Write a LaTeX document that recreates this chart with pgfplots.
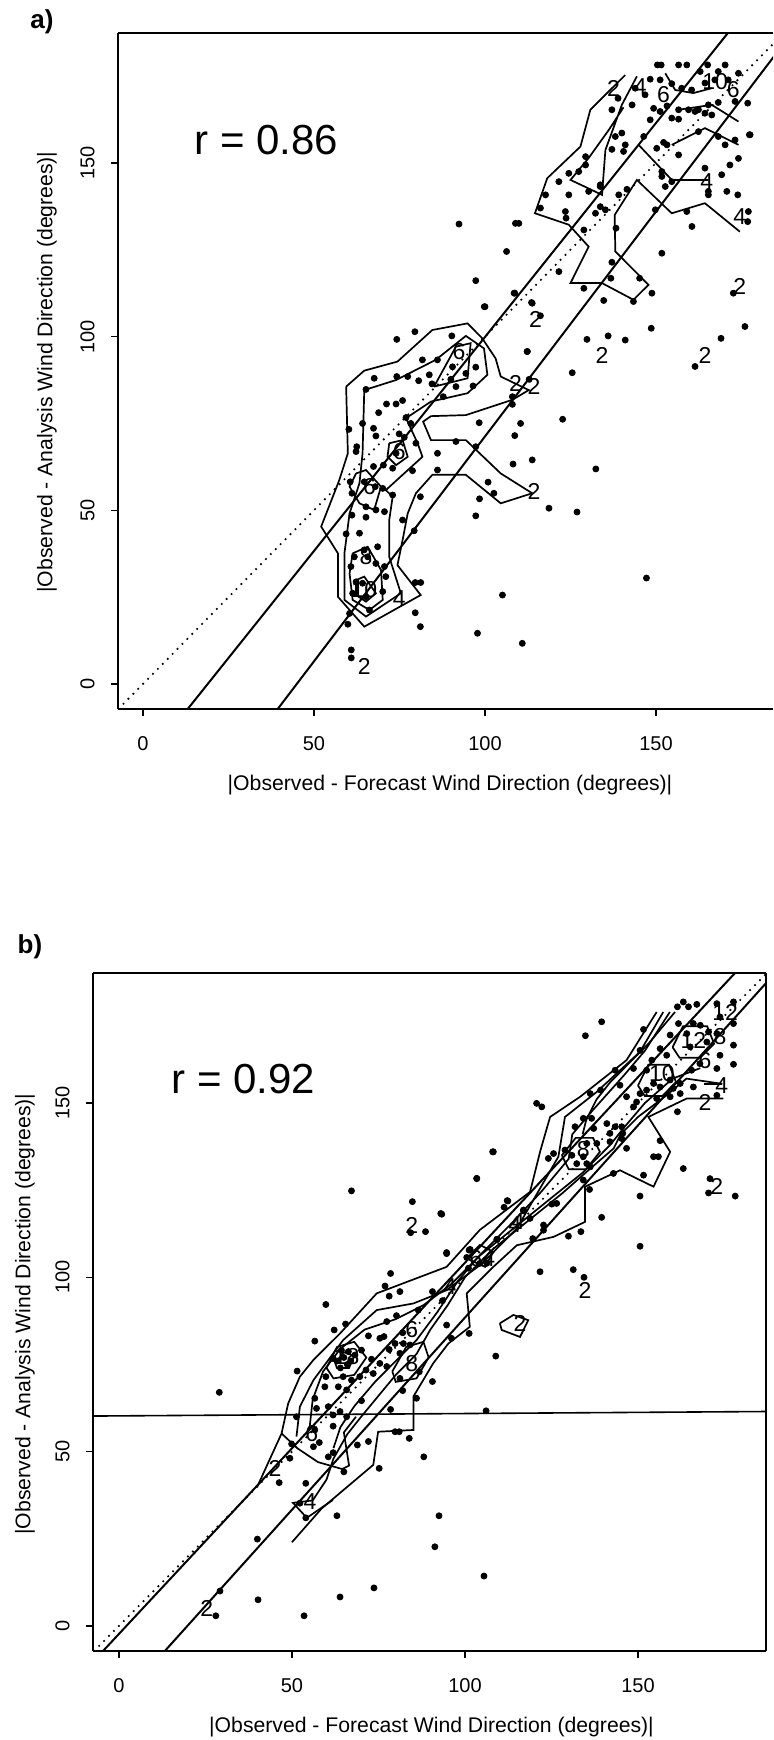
\documentclass[border=0pt]{standalone}
\usepackage{pgfplots}
\pgfplotsset{compat=1.18}
\usepackage{fontspec}
\setmainfont{Liberation Sans}
\pgfplotsset{
  base/.style={
    scale only axis, clip=true,
    axis x line*=box, axis y line*=left,
    tick align=outside, major tick length=3.5pt,
    xtick={0,50,100,150}, ytick={0,50,100,150},
    xtick pos=left, ytick pos=left,
    minor tick num=0,
    xticklabels={}, yticklabels={},
    axis line style={line width=0.8pt},
    every tick/.style={black, line width=0.7pt},
  },
  tl/.style 2 args={after end axis/.append code={
    \foreach \v in {0,50,100,150}{
      \node[font=\fontsize{10}{12}\selectfont, inner sep=0pt] at ([yshift=-17.2pt]axis cs:\v,#1) {\v};
      \node[font=\fontsize{10}{12}\selectfont, inner sep=0pt, rotate=90] at ([xshift=-15.25pt]axis cs:#2,\v) {\v};
    }}},
  pts/.style={only marks, mark=*, mark size=1.5pt, black},
  reg/.style={black, line width=1pt, no marks},
  one/.style={black, line width=1.2pt, dash pattern=on 0pt off 3.5pt, line cap=round, no marks},
  cnt/.style={black, line width=0.85pt, no marks},
}
\tikzset{lab/.style={font=\fontsize{11.5}{12}\selectfont, inner sep=0pt}}
\begin{document}
\begin{tikzpicture}
% ---------------- panel a ----------------
\begin{axis}[base, at={(59pt,515.5pt)}, anchor=south west,
  width=327.5pt, height=338pt,
  xmin=-7.3, xmax=184.2, ymin=-7.2, ymax=187.4, tl={-7.2}{-7.3}]
\addplot[one] coordinates {(-10,-10) (190,190)};
\addplot[reg] coordinates {(10,-11) (175,192.3)};
\addplot[reg] coordinates {(35,-12.9) (190,187.8)};
% contours lower cluster
\addplot[cnt] coordinates {(59.4,85.6) (64.7,90.2) (74.4,92.8) (84.6,101.9) (94.9,103.8) (99.2,99.5) (103.1,93.7) (104.6,88.5) (112.8,84.6) (108.0,81.8) (94.4,77.4) (84.2,77.1) (81.9,75.5) (84.2,70.2) (94.4,70.2) (104.6,60.6) (113.8,54.9) (104.6,52.0) (94.4,60.2) (84.6,60.2) (79.8,54.9) (77.4,49.1) (75.9,41.4) (74.4,34.2) (81.2,25.6) (64.7,16.5) (57.0,25.1) (57.0,37.6) (52.1,45.3) (57.4,58.7) (59.9,66.4) (59.4,85.6)};
\addplot[cnt] coordinates {(64.7,84.6) (74.0,87.5) (85.6,93.3) (94.4,100.2) (99.7,96.6) (100.7,89.0) (94.9,83.7) (84.2,81.3) (76.9,76.5) (80.3,69.3) (81.7,65.4) (71.0,55.8) (73.0,53.9) (72.0,47.2) (72.0,36.6) (75.4,26.1) (65.2,19.4) (58.9,24.2) (58.9,37.6) (60.4,49.1) (63.3,57.8) (64.2,66.4) (64.7,84.6)};
\addplot[cnt] coordinates {(72.0,69.3) (75.9,70.2) (77.4,65.4) (74.0,63.0) (71.5,65.4) (72.0,69.3)};
\addplot[cnt] coordinates {(62.3,60.6) (65.2,61.6) (69.6,56.8) (67.6,50.1) (63.3,52.0) (60.4,56.8) (62.3,60.6)};
\addplot[cnt] coordinates {(61.3,37.6) (65.7,39.5) (69.6,32.8) (70.1,24.2) (66.2,21.3) (61.3,24.2) (60.4,31.8) (61.3,37.6)};
\addplot[cnt] coordinates {(62.3,29.9) (64.7,30.9) (68.1,26.1) (65.2,23.7) (62.3,25.6) (62.3,29.9)};
\addplot[cnt] coordinates {(85.1,85.6) (91.5,97.1) (95.8,98.1) (94.9,88.0) (85.1,85.6)};
% contours upper cluster
\addplot[cnt] coordinates {(141.0,175.3) (130.8,165.3) (127.9,154.7) (118.2,145.6) (114.6,135.5) (124.5,132.2) (130.3,125.9) (125.0,115.4) (134.2,115.4) (143.4,110.6) (147.8,114.9) (138.1,124.5) (137.9,135.0) (144.4,145.1) (154.6,135.5) (164.3,138.4) (174.5,130.2)};
\addplot[cnt] coordinates {(144.4,174.9) (140.0,166.7) (135.2,153.7) (134.2,140.8) (125.0,145.1) (130.3,151.4) (136.2,159.5) (140.5,166.0)};
\addplot[cnt] coordinates {(144.9,155.2) (154.6,145.1) (165.3,145.1)};
\addplot[cnt] coordinates {(154.6,155.2) (164.3,160.0) (174.1,155.2)};
\addplot[cnt] coordinates {(152.7,175.8) (155.6,171.0) (160.9,170.1) (166.3,171.5)};
\addplot[cnt] coordinates {(156.6,165.3) (166.3,166.7) (174.1,161.9)};
% points
\addplot[pts] coordinates {
(97.3,116.1) (108.7,112.5) (113.6,109.8) (99.8,108.6) (79.5,101.4) (74.2,99.2) (90.3,100.2) (112.4,95.7) (81.7,93.3) (86.1,93.3)
(67.6,88.0) (74.2,88.5) (77.4,88.5) (80.6,87.3) (83.7,89.0) (90.5,91.3) (94.4,89.4) (97.3,91.2) (90.0,87.7) (91.5,85.6)
(65.2,84.8) (84.5,86.4) (87.8,82.7) (96.5,85.8) (108.0,82.7) (108.0,80.5) (71.2,80.6) (74.0,80.6) (75.9,81.6) (68.9,78.1)
(76.9,76.7) (78.3,75.0) (98.3,75.2) (110.4,75.0) (108.7,71.5) (64.2,75.0) (67.4,73.6) (68.1,71.4) (60.2,73.3) (74.9,72.0)
(76.4,71.0) (79.8,69.3) (62.5,68.3) (62.3,66.9) (74.0,66.4) (86.1,66.4) (91.5,69.8) (97.3,68.3) (108.2,63.3) (113.8,64.5)
(67.4,62.6) (70.3,63.0) (73.0,62.1) (78.8,61.4) (86.1,61.6) (100.9,58.1) (102.6,54.9) (98.4,53.3) (81.1,53.9) (60.6,58.2)
(61.1,54.9) (64.7,58.2) (67.9,56.8) (70.1,56.3) (73.0,54.4) (65.2,51.0) (68.1,50.1) (70.6,49.6) (61.1,48.6) (65.2,48.0)
(75.9,47.2) (97.3,48.4) (59.4,43.2) (63.3,43.4) (79.3,44.1) (68.6,39.5) (64.7,38.6) (61.8,36.6) (65.7,36.6) (68.1,34.7)
(70.6,33.8) (71.0,30.9) (60.8,33.8) (62.3,29.4) (64.2,29.0) (79.6,29.2) (81.2,29.2) (70.1,26.6) (105.1,25.6) (60.4,20.3)
(66.2,21.3) (79.6,20.5) (59.9,17.2) (81.1,16.5) (97.8,14.6) (110.9,11.7) (65.2,25.1) (61.3,26.1) (118.7,50.6) (60.9,9.8)
(60.9,7.5) (147.2,30.5) (92.4,132.4) (132.4,61.9) (126.9,49.5) (125.5,89.6) (112.9,87.7) (122.7,76.2)
(150.4,178.2) (151.5,178.2) (156.6,178.2) (159.0,178.2) (165.1,178.2) (170.2,178.2) (162.9,176.3) (168.2,176.3) (148.3,174.1) (151.2,173.9)
(154.6,172.8) (157.5,171.5) (160.4,171.0) (164.3,173.0) (167.2,173.9) (171.1,173.9) (174.1,175.8) (143.9,171.5) (146.8,169.6) (138.9,168.6)
(143.0,166.7) (149.3,165.7) (151.2,164.8) (153.2,166.4) (156.6,165.3) (159.5,165.3) (162.4,165.3) (165.3,166.7) (168.2,167.4) (173.1,167.7)
(176.8,167.2) (137.1,165.3) (148.3,162.4) (154.6,162.9) (156.6,162.6) (161.4,164.8) (164.3,164.3) (166.3,163.8) (162.4,159.0) (168.2,157.6)
(170.2,155.2) (173.1,156.6) (177.5,158.1) (138.1,157.6) (140.0,158.6) (146.4,157.6) (152.2,155.9) (141.0,155.2) (137.1,153.9) (140.5,153.3)
(150.2,154.2) (153.2,155.2) (156.6,152.3) (174.1,151.3) (171.6,149.4) (169.2,146.6) (164.3,148.5) (151.7,147.5) (151.7,146.1) (154.6,144.6)
(165.3,141.8) (170.7,141.8) (173.9,140.8) (177.0,136.0) (176.8,133.1) (165.3,140.8) (152.7,143.2) (129.4,151.8) (129.4,149.4) (124.5,147.0)
(127.4,147.5) (121.6,144.6) (133.7,143.7) (133.7,143.2) (130.3,141.8) (124.5,140.8) (117.7,140.8) (133.7,137.4) (116.2,137.0) (123.5,136.0)
(123.7,134.1) (132.3,135.5) (135.2,136.5) (139.1,140.8) (141.5,142.4) (149.8,136.5) (159.0,136.0) (160.5,131.7) (151.7,124.0) (128.9,130.7)
(109.9,132.6) (108.9,132.6) (106.3,124.5) (138.3,131.2) (137.1,121.4) (136.8,116.8) (145.2,116.8) (148.8,112.5) (128.9,113.9) (134.7,110.4)
(143.4,110.1) (121.6,118.7) (108.5,112.5) (113.8,109.6) (100.0,108.6) (116.2,106.0) (148.6,102.4) (129.8,99.2) (136.0,100.2) (141.0,99.0)
(112.3,95.7) (169.0,99.5) (176.0,102.9) (161.4,91.4) (172.6,112.5) (177.3,158.1)
};
% contour labels
\node[lab] at (axis cs:137.6,171.5) {2};
\node[lab] at (axis cs:145.4,172.0) {4};
\node[lab] at (axis cs:152.2,169.6) {6};
\node[lab] at (axis cs:167.3,173.4) {10};
\node[lab] at (axis cs:172.6,171.0) {6};
\node[lab] at (axis cs:164.8,144.6) {4};
\node[lab] at (axis cs:174.5,134.6) {4};
\node[lab] at (axis cs:174.5,114.4) {2};
\node[lab] at (axis cs:114.8,105.0) {2};
\node[lab] at (axis cs:134.2,94.7) {2};
\node[lab] at (axis cs:164.3,94.7) {2};
\node[lab] at (axis cs:108.9,86.5) {2};
\node[lab] at (axis cs:114.3,85.6) {2};
\node[lab] at (axis cs:114.3,55.4) {2};
\node[lab] at (axis cs:92.4,95.7) {6};
\node[lab] at (axis cs:74.9,66.9) {6};
\node[lab] at (axis cs:66.2,56.8) {6};
\node[lab] at (axis cs:65.2,36.6) {8};
\node[lab] at (axis cs:64.7,27.1) {10};
\node[lab] at (axis cs:74.9,24.6) {4};
\node[lab] at (axis cs:64.7,4.9) {2};
\end{axis}
% ---------------- panel b ----------------
\begin{axis}[base, at={(46.5pt,44.5pt)}, anchor=south west,
  width=336.5pt, height=339pt,
  xmin=-7.5, xmax=187, ymin=-7.2, ymax=187.3,
  after end axis/.append code={\draw[line width=0.8pt] (rel axis cs:1,0) -- (rel axis cs:1,1);},
  tl={-7.2}{-7.5}]
\addplot[one] coordinates {(-10,-10) (190,190)};
\addplot[reg] coordinates {(-10,-12.95) (185,194.7)};
\addplot[reg] coordinates {(8,-13.0) (190,187.7)};
\addplot[reg, line width=0.8pt] coordinates {(-7.5,60.2) (187,61.5)};
% contours
\addplot[cnt] coordinates {(40,40) (47.0,55.2) (48.9,63.8) (52.3,71.5) (56.2,76.3) (63.9,83.9) (74.5,95.4) (94.7,103.0) (104.3,113.6) (118.8,124.5) (121.7,136.0) (124.6,146.0) (133.3,151.8) (146.7,162.3) (155.4,176.1)};
\addplot[cnt] coordinates {(174.7,151.3) (164.1,151.3) (153.0,146.0) (159.3,136.0) (154.5,126.0) (144.8,130.7) (134.7,126.0) (134.7,115.9) (125.6,111.6) (115.0,109.2) (108.2,103.0) (100.5,95.4) (101.4,85.8) (95.2,81.0) (90.8,75.3) (85.1,65.8) (85.1,56.2) (74.9,55.7) (73.5,46.2) (58.6,33.7) (50,24)};
\addplot[cnt] coordinates {(47.0,55.2) (51.5,51.0) (57.5,47.0) (64.5,45.0) (66.5,46.0) (65.0,55.5) (68.5,60.0)};
\addplot[cnt] coordinates {(51.3,54.3) (52.3,62.9) (56.2,70.5) (64.8,82.0) (74.5,90.6) (85.1,92.5) (94.7,96.3) (105,104) (115,114) (127.0,134.6) (128.9,146.0) (138.1,153.2) (150.6,164.7) (157.3,176.1)};
\addplot[cnt] coordinates {(55,56) (56,65) (59,73) (64,79.5) (71,85) (80,88) (88,92) (96,98) (104,106) (113,115) (122,124.5) (130,134) (131,141) (137,148) (146,158) (152,165) (159.2,176.1)};
\addplot[cnt] coordinates {(160.7,176.1) (153,167) (147,161) (142,156) (138,151) (135,145) (134,141)};
\addplot[cnt] coordinates {(174.4,155.5) (164,157) (158,152) (150,146) (145,141) (143,137) (136,131) (128,124) (118,116) (108,108) (100,100) (95,92) (90,85) (86,78) (80,72) (75,66) (70,60) (66,55) (62,48) (60,42) (56,36) (50.3,35.3) (54.3,31.0) (61.8,36.1)};
\addplot[cnt] coordinates {(168,160) (160,157) (152,150) (146,143) (142,138) (134,130) (124,122) (114,114) (104,106) (98,99) (92,90) (86,82) (80,76) (74,70) (68,63) (64,57) (62,51)};
\addplot[cnt] coordinates {(60,74) (63,80) (68,81.5) (71.5,77) (68,72) (62,71) (60,74)};
\addplot[cnt] coordinates {(62.5,75.5) (65,78.5) (68,77.5) (66.5,74) (63,74) (62.5,75.5)};
\addplot[cnt] coordinates {(79,73) (83,80) (88,81.5) (89.5,77) (86,71) (80,70) (79,73)};
\addplot[cnt] coordinates {(160,166) (163,172) (170,172) (172,167) (168,163) (162,163) (160,166)};
\addplot[cnt] coordinates {(150,155) (153,161) (159,161) (161,156) (157,152) (152,152) (150,155)};
\addplot[cnt] coordinates {(128,135) (132,140) (137,140) (139,136) (135,131) (130,131) (128,135)};
\addplot[cnt] coordinates {(110.1,86.8) (114.0,89.2) (118.3,87.7) (115.9,82.9) (110.6,84.9) (110.1,86.8)};
\addplot[cnt] coordinates {(101.0,105.9) (104.3,109.3) (108.2,107.3) (105.8,103.0) (101.4,105.0) (101.0,105.9)};
\addplot[cnt] coordinates {(169,155.5) (174.4,155.5)};
% points
\addplot[pts] coordinates {
(108.2,136.0) (103.4,128.4) (67.2,124.8) (84.8,121.7) (93.0,118.3) (84.3,112.8) (88.6,113.1) (112.2,122.0) (111.3,120.1) (116.9,119.1)
(94.7,107.1) (101.2,107.8) (109.3,110.9) (101.0,102.6) (104.3,104.0) (78.5,101.1) (76.9,97.5) (78.1,94.6) (81.2,95.9) (90.6,95.9)
(93.5,93.3) (59.8,92.2) (65.5,86.6) (80.2,89.0) (86.5,90.6) (77.4,87.3) (62.2,84.9) (56.6,81.7) (72.1,83.2) (75.4,82.5)
(76.6,83.0) (82.0,84.1) (79.8,81.0) (82.2,81.0) (84.1,80.6) (78.1,79.3) (81.2,78.2) (94.7,86.3) (96.1,82.5) (101.2,83.9)
(108.9,77.4) (51.5,73.1) (61.9,76.7) (64.3,79.1) (66.3,78.7) (68.2,77.7) (70.1,79.1) (73.0,76.5) (75.4,75.3) (77.4,74.4)
(73.5,72.4) (71.4,73.4) (69.6,71.5) (67.2,70.5) (64.8,71.5) (63.4,68.6) (65.8,67.7) (59.8,71.5) (59.5,68.6) (81.2,71.0)
(86.8,72.9) (90.6,70.1) (82.0,67.5) (86.0,65.3) (78.5,62.1) (106.1,61.7) (56.6,65.3) (57.1,62.4) (60.5,62.9) (63.9,61.5)
(61.9,60.5) (65.8,60.0) (70.1,64.6) (51.3,60.0) (61.9,57.3) (56.6,56.2) (79.8,55.7) (81.0,55.7) (83.9,53.8) (68.9,51.9)
(72.1,52.9) (88.1,48.5) (49.9,52.2) (57.9,52.6) (61.9,49.7) (60.5,48.5) (49.4,48.1) (56.2,51.4) (75.2,45.2) (65.0,44.2)
(46.3,41.1) (54.0,40.9) (52.3,35.2) (29.0,67.0) (63,76) (65,77) (67,76) (64,74) (66,75)
(54.0,31.0) (63.0,31.6) (40.0,24.9) (29.2,10.0) (28.0,2.9) (40.2,7.5) (53.5,2.9) (63.9,8.3) (73.7,10.9) (92.5,31.6)
(91.3,22.7) (105.5,14.3)
(163.1,179.0) (161.4,177.6) (164.6,177.6) (167.0,178.3) (172.8,178.5) (177.6,179.0) (173.7,174.7) (177.6,172.8) (139.5,173.3) (134.8,169.3)
(161.7,172.8) (166.0,172.8) (168.0,172.3) (151.6,171.1) (159.3,169.5) (164.1,169.9) (170.4,170.4) (172.8,169.9) (156.4,165.6) (150.6,165.1)
(158.3,163.7) (165.1,166.1) (169.9,167.5) (177.6,166.6) (177.6,161.1) (172.8,159.9) (173.7,163.7) (167.9,161.3) (165.5,159.4) (154.0,162.3)
(152.5,159.4) (154.5,155.6) (148.7,159.9) (143.4,159.4) (144.8,155.1) (150.6,152.7) (152.5,153.7) (156.4,154.6) (159.3,156.6) (160.2,154.2)
(162.2,155.6) (155.4,151.3) (159.3,151.8) (162.2,152.7) (166.0,154.6) (146.7,151.8) (148.7,148.9) (149.6,150.3) (139.2,153.7) (136.2,152.7)
(120.7,149.9) (122.2,148.9) (161.4,147.5) (172.8,152.2) (134.2,145.6) (136.6,145.6) (131.8,143.2) (137.2,142.7) (141.0,144.1) (143.4,143.2)
(145.3,143.2) (141.9,141.3) (145.6,141.3) (138.1,138.4) (141.9,138.9) (146.7,137.0) (145.3,139.8) (135.2,138.4) (128.9,136.5) (125.6,135.5)
(124.1,134.1) (130.9,135.0) (134.2,134.6) (135.2,132.6) (136.2,131.7) (132.3,132.6) (108.0,136.0) (156.4,139.2) (154.5,134.6) (155.9,134.6)
(163.1,131.2) (151.6,129.3) (142.9,129.8) (134.2,127.9) (136.0,125.2) (103.4,128.3) (112.4,121.9) (125.1,121.0) (126.5,121.2) (116.9,119.3)
(118.8,116.9) (122.7,115.0) (122.7,113.5) (139.5,117.2) (150.6,123.3) (170.8,128.3) (170.4,124.2) (178.1,123.3) (93.3,118.1) (94.7,106.8)
(101.5,108.0) (100.5,105.7) (109.2,110.9) (119.6,111.1) (129.9,111.8) (133.5,113.1) (150.6,108.9) (121.7,101.6) (131.3,102.2) (134.4,100.0)
(106.3,104.0)
};
% contour labels
\node[lab] at (axis cs:84.6,115.0) {2};
\node[lab] at (axis cs:115.4,115.9) {4};
\node[lab] at (axis cs:105.0,105.5) {64};
\node[lab] at (axis cs:95.7,97.3) {4};
\node[lab] at (axis cs:84.6,84.9) {6};
\node[lab] at (axis cs:84.6,75.3) {8};
\node[lab] at (axis cs:65.8,77.2) {18};
\node[lab] at (axis cs:55.7,55.2) {6};
\node[lab] at (axis cs:45.1,45.2) {2};
\node[lab] at (axis cs:55.2,35.6) {4};
\node[lab] at (axis cs:115.9,86.8) {2};
\node[lab] at (axis cs:175.2,176.1) {12};
\node[lab] at (axis cs:166.0,168.0) {12};
\node[lab] at (axis cs:173.7,169.0) {8};
\node[lab] at (axis cs:169.4,162.3) {6};
\node[lab] at (axis cs:174.2,155.1) {4};
\node[lab] at (axis cs:169.4,150.3) {2};
\node[lab] at (axis cs:156.9,158.5) {10};
\node[lab] at (axis cs:134.2,136.5) {8};
\node[lab] at (axis cs:114.5,115.0) {4};
\node[lab] at (axis cs:172.8,126.0) {2};
\node[lab] at (axis cs:134.7,96.3) {2};
\node[lab] at (axis cs:25.4,5.1) {2};
\end{axis}
% ---------------- texts ----------------
\node[font=\fontsize{13}{14}\selectfont\bfseries] at (21pt,859pt) {a)};
\node[font=\fontsize{13}{14}\selectfont\bfseries] at (15pt,396.5pt) {b)};
\node[font=\fontsize{21}{24}\selectfont, inner sep=0pt] at (133.25pt,800pt) {r = 0.86};
\node[font=\fontsize{21}{24}\selectfont, inner sep=0pt] at (121.75pt,330.5pt) {r = 0.92};
\node[font=\fontsize{10.6}{12}\selectfont, inner sep=0pt] at (225pt,477.5pt) {|Observed - Forecast Wind Direction (degrees)|};
\node[font=\fontsize{10.6}{12}\selectfont, inner sep=0pt] at (215.75pt,6.5pt) {|Observed - Forecast Wind Direction (degrees)|};
\node[font=\fontsize{10.6}{12}\selectfont, inner sep=0pt, rotate=90] at (23.5pt,684pt) {|Observed - Analysis Wind Direction (degrees)|};
\node[font=\fontsize{10.6}{12}\selectfont, inner sep=0pt, rotate=90] at (12.5pt,213pt) {|Observed - Analysis Wind Direction (degrees)|};
\pgfresetboundingbox
\path[use as bounding box] (0,0) rectangle (386.5pt,870pt);
\end{tikzpicture}
\end{document}
